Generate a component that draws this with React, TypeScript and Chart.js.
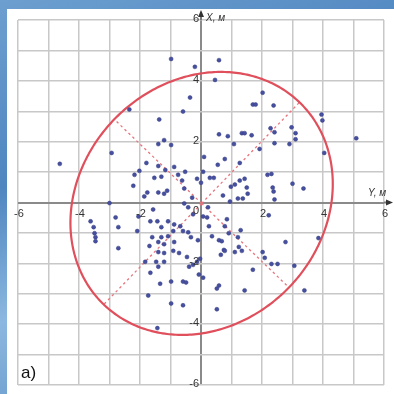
import React, { useEffect, useRef } from 'react';
import { Chart, registerables } from 'chart.js';

Chart.register(...registerables);

// Horizontal axis: "Y, м"; vertical axis: "X, м"
const pointY: number[] = [
  -0.98, -0.20, 0.59, 0.46, -0.36, -0.59, -2.35, -1.37, 2.02, 1.70,
  1.79, 2.38, 3.95, 3.98, 2.28, 2.41, 2.97, 3.10, 3.10, 2.90,
  2.41, 5.09, 0.59, 0.88, 1.34, 1.43, 1.66, 1.08, -1.40, -1.21,
  -0.98, -2.93, 1.92, 4.04, 0.10, 0.78, -4.63, -1.79, -1.40, -1.17,
  -0.88, 0.55, 1.27, -0.52, -0.75, -2.18, -2.02, -1.53, -1.30, 0.07,
  0.29, 0.42, 2.18, 2.31, -0.62, -0.13, 0.00, 1.27, 1.43, -2.22,
  0.98, 1.11, 1.50, 2.35, 2.38, 3.00, 3.36, -1.76, -1.86, -1.40,
  -1.21, -1.11, -0.55, -0.29, 0.72, 1.53, 1.37, 1.21, -3.00, -0.55,
  -3.62, -3.52, -3.49, -3.46, -3.46, -2.71, -2.80, -2.71, -2.09, -2.05,
  -1.57, -1.66, -1.43, -1.30, -1.08, -0.88, -0.68, -0.91, -1.08, -1.30,
  -1.60, -1.40, -1.69, -1.21, -0.88, -0.42, -0.26, -0.59, -0.42, -0.33,
  -0.10, 0.23, 0.07, 0.20, 0.26, 0.85, 0.78, 0.36, 0.59, 0.68,
  0.91, 1.30, 1.21, 0.95, 2.41, 2.22, 3.85, 2.77, -1.83, -1.47,
  -1.21, -0.91, -0.72, -1.21, -1.40, -0.46, -0.26, -0.13, -0.39, -1.40,
  -0.07, 0.07, -0.03, 0.75, 0.65, 1.24, 1.34, 1.11, 0.78, 2.02,
  2.09, 2.31, 2.51, 3.06, 1.70, -1.66, -1.34, -0.98, -0.59, -0.49,
  -1.73, -0.98, -0.59, 0.52, 0.59, 0.52, 1.43, 3.39, -1.43,
];
const pointX: number[] = [
  4.72, 4.46, 4.68, 4.03, 3.45, 2.99, 3.06, 2.73, 3.61, 3.22,
  3.22, 3.19, 2.89, 2.70, 2.44, 2.31, 2.47, 2.28, 2.08, 1.92,
  1.95, 2.11, 2.24, 2.18, 2.28, 2.28, 2.21, 1.92, 1.92, 2.05,
  1.89, 1.63, 1.76, 1.63, 1.50, 1.43, 1.27, 1.30, 1.20, 1.07,
  1.17, 1.24, 1.30, 1.01, 0.91, 0.91, 1.04, 0.81, 0.85, 1.01,
  0.81, 0.81, 0.91, 0.94, 0.72, 0.78, 0.65, 0.72, 0.78, 0.55,
  0.52, 0.59, 0.49, 0.49, 0.36, 0.62, 0.46, 0.33, 0.20, 0.33,
  0.29, 0.39, 0.46, 0.16, 0.23, 0.29, 0.13, 0.13, -0.02, -0.03,
  -0.62, -0.81, -1.01, -1.14, -1.27, -0.81, -0.49, -1.50, -0.94, -0.46,
  -0.23, -0.62, -0.62, -0.81, -0.62, -0.72, -0.78, -0.94, -1.11, -1.14,
  -1.14, -1.30, -1.43, -1.37, -1.30, -0.16, -0.39, -0.94, -0.98, -1.14,
  -1.24, -0.16, -0.46, -0.49, -0.78, -0.55, -0.78, -1.11, -1.24, -1.27,
  -1.01, -0.91, -1.14, 0.03, 0.10, -0.42, -1.17, -1.30, -1.95, -1.95,
  -1.95, -1.59, -1.66, -1.66, -1.63, -1.79, -2.05, -1.95, -2.11, -2.11,
  -2.37, -2.47, -1.85, -1.56, -1.72, -1.46, -1.59, -1.63, -1.59, -1.63,
  -1.82, -2.02, -2.02, -2.08, -2.21, -2.31, -2.67, -2.60, -2.60, -2.63,
  -3.06, -3.32, -3.38, -2.83, -2.73, -3.51, -2.89, -2.89, -4.13,
];

const axisMin = -6;
const axisMax = 6;
const tickValues = [-6, -4, -2, 2, 4, 6];
const tickLabels = ['-6', '-4', '-2', '2', '4', '6'];
const horizontalAxisTitle = 'Y, м';
const verticalAxisTitle = 'X, м';
const panelLabel = 'a)';

// Error ellipse: centre (Y, X), semi-axes, orientation
const ellipseCenter = [0.02, -0.03];
const ellipseSemiAxes = [4.62, 3.98];
const ellipseAngleDeg = 46;

const overlayPlugin = {
  id: 'overlay',
  beforeDatasetsDraw(chart: any) {
    const { ctx, scales } = chart;
    const xs = scales.x;
    const ys = scales.y;
    const th = (ellipseAngleDeg * Math.PI) / 180;
    const [a, b] = ellipseSemiAxes;
    const pt = (u: number, v: number) => {
      const ex = ellipseCenter[0] + u * Math.cos(th) - v * Math.sin(th);
      const ey = ellipseCenter[1] + u * Math.sin(th) + v * Math.cos(th);
      return [xs.getPixelForValue(ex), ys.getPixelForValue(ey)];
    };
    ctx.save();
    ctx.setLineDash([2.5, 3]);
    ctx.lineWidth = 1.3;
    ctx.strokeStyle = '#e8747c';
    const c = pt(0, 0);
    [[a, 0], [-a, 0], [0, b], [0, -b]].forEach(([u, v]) => {
      const e = pt(u, v);
      ctx.beginPath();
      ctx.moveTo(c[0], c[1]);
      ctx.lineTo(e[0], e[1]);
      ctx.stroke();
    });
    ctx.setLineDash([]);
    ctx.beginPath();
    for (let i = 0; i <= 360; i++) {
      const t = (i * Math.PI) / 180;
      const p = pt(a * Math.cos(t), b * Math.sin(t));
      if (i === 0) ctx.moveTo(p[0], p[1]);
      else ctx.lineTo(p[0], p[1]);
    }
    ctx.closePath();
    ctx.strokeStyle = '#e0505c';
    ctx.lineWidth = 2.2;
    ctx.stroke();
    ctx.restore();
  },
  afterDraw(chart: any) {
    const { ctx, scales, chartArea } = chart;
    const xs = scales.x;
    const ys = scales.y;
    const x0 = xs.getPixelForValue(0);
    const y0 = ys.getPixelForValue(0);
    ctx.save();
    ctx.strokeStyle = '#7a7a7a';
    ctx.lineWidth = 2;
    ctx.beginPath();
    ctx.moveTo(x0, chartArea.top);
    ctx.lineTo(x0, 12);
    ctx.moveTo(chartArea.right, y0);
    ctx.lineTo(390, y0);
    ctx.stroke();
    ctx.fillStyle = '#333';
    ctx.beginPath();
    ctx.moveTo(x0, 10);
    ctx.lineTo(x0 - 3, 17);
    ctx.lineTo(x0 + 3, 17);
    ctx.closePath();
    ctx.fill();
    ctx.beginPath();
    ctx.moveTo(393, y0);
    ctx.lineTo(386, y0 - 3);
    ctx.lineTo(386, y0 + 3);
    ctx.closePath();
    ctx.fill();

    ctx.fillStyle = '#333333';
    ctx.font = '11px "Liberation Sans", Arial, sans-serif';
    ctx.textAlign = 'center';
    ctx.textBaseline = 'top';
    tickValues.forEach((v, i) => {
      ctx.fillText(tickLabels[i], xs.getPixelForValue(v) + 1, y0 + 6);
    });
    ctx.textAlign = 'right';
    ctx.textBaseline = 'middle';
    tickValues.forEach((v, i) => {
      ctx.fillText(tickLabels[i], x0 - 2, ys.getPixelForValue(v) - 1);
    });
    ctx.fillText('0', x0 - 2, y0 + 8);

    ctx.font = 'italic 10px "Liberation Sans", Arial, sans-serif';
    ctx.textAlign = 'left';
    ctx.textBaseline = 'middle';
    ctx.fillText(verticalAxisTitle, x0 + 5, 18);
    ctx.fillText(horizontalAxisTitle, 368, y0 - 9);

    ctx.font = '17px "Liberation Sans", Arial, sans-serif';
    ctx.fillStyle = '#111';
    ctx.textBaseline = 'alphabetic';
    ctx.fillText(panelLabel, 21, 378);
    ctx.restore();
  },
};

export default function App() {
  const canvasRef = useRef<HTMLCanvasElement | null>(null);

  useEffect(() => {
    if (!canvasRef.current) return;
    const data = pointY.map((v, i) => ({ x: v, y: pointX[i] }));
    const gridColor = (c: any) => (c.tick && c.tick.value === 0 ? '#8a8a8a' : '#c8c8c8');
    const gridWidth = (c: any) => (c.tick && c.tick.value === 0 ? 2 : 1.5);
    const chart = new Chart(canvasRef.current, {
      type: 'scatter',
      data: {
        datasets: [
          {
            data,
            pointRadius: 2,
            pointBackgroundColor: '#4650a0',
            pointBorderColor: '#363c80',
            pointBorderWidth: 0.5,
          },
        ],
      },
      options: {
        animation: false,
        responsive: false,
        devicePixelRatio: 1,
        layout: { padding: { left: 18, right: 10, top: 20, bottom: 9 } },
        plugins: { legend: { display: false }, tooltip: { enabled: false } },
        scales: {
          x: {
            type: 'linear',
            min: axisMin,
            max: axisMax,
            ticks: { stepSize: 1, display: false },
            grid: { color: gridColor, lineWidth: gridWidth, drawTicks: false },
            border: { display: false },
          },
          y: {
            type: 'linear',
            min: axisMin,
            max: axisMax,
            ticks: { stepSize: 1, display: false },
            grid: { color: gridColor, lineWidth: gridWidth, drawTicks: false },
            border: { display: false },
          },
        },
      },
      plugins: [overlayPlugin],
    } as any);
    return () => chart.destroy();
  }, []);

  return (
    <div
      style={{
        position: 'fixed',
        left: 0,
        top: 0,
        width: 394,
        height: 394,
        background: 'linear-gradient(160deg, #6d9fd0 0%, #4f86c0 35%, #8bb8e0 60%, #4a7fb8 100%)',
        overflow: 'hidden',
      }}
    >
      <div style={{ position: 'absolute', left: 7, top: 9, right: 0, bottom: 0, background: '#ffffff' }} />
      <canvas
        ref={canvasRef}
        width={394}
        height={394}
        style={{ position: 'absolute', left: 0, top: 0, width: 394, height: 394 }}
      />
    </div>
  );
}
